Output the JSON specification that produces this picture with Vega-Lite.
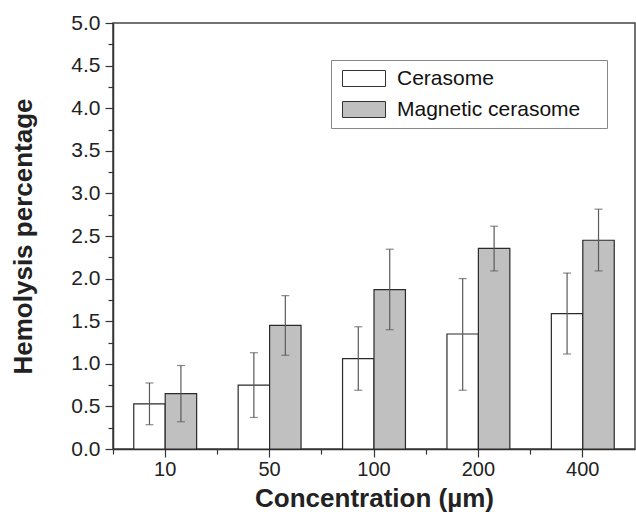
{
  "$schema": "https://vega.github.io/schema/vega-lite/v6.json",
  "width": 522,
  "height": 426,
  "autosize": "none",
  "padding": {"left": 113, "top": 23, "right": 1, "bottom": 63},
  "background": "white",
  "config": {
    "font": "Liberation Sans",
    "view": {"stroke": "#444", "strokeWidth": 1.5},
    "axis": {"domainColor": "#333", "domainWidth": 1.5, "tickColor": "#333", "tickWidth": 1.2, "labelColor": "#222", "titleColor": "#222", "grid": false}
  },
  "data": {
    "values": [
      {"conc": "10", "series": "Cerasome", "value": 0.53, "lo": 0.285, "hi": 0.775},
      {"conc": "10", "series": "Magnetic cerasome", "value": 0.65, "lo": 0.32, "hi": 0.98},
      {"conc": "50", "series": "Cerasome", "value": 0.75, "lo": 0.37, "hi": 1.13},
      {"conc": "50", "series": "Magnetic cerasome", "value": 1.45, "lo": 1.10, "hi": 1.80},
      {"conc": "100", "series": "Cerasome", "value": 1.06, "lo": 0.69, "hi": 1.435},
      {"conc": "100", "series": "Magnetic cerasome", "value": 1.87, "lo": 1.40, "hi": 2.345},
      {"conc": "200", "series": "Cerasome", "value": 1.35, "lo": 0.69, "hi": 2.00},
      {"conc": "200", "series": "Magnetic cerasome", "value": 2.355, "lo": 2.09, "hi": 2.615},
      {"conc": "400", "series": "Cerasome", "value": 1.59, "lo": 1.115, "hi": 2.065},
      {"conc": "400", "series": "Magnetic cerasome", "value": 2.45, "lo": 2.09, "hi": 2.815}
    ]
  },
  "resolve": {"axis": {"x": "independent", "y": "independent"}, "scale": {"x": "shared", "y": "shared"}},
  "layer": [
    {
      "mark": {"type": "bar", "stroke": "#2a2a2a", "strokeWidth": 1.2},
      "encoding": {
        "x": {
          "field": "conc", "type": "nominal", "sort": ["10", "50", "100", "200", "400"],
          "scale": {"paddingInner": 0, "paddingOuter": 0},
          "axis": {"orient": "bottom", "labelAngle": 0, "tickSize": 8, "labelFontSize": 20, "labelPadding": 2, "title": "Concentration (µm)", "titleFontSize": 26, "titleFontWeight": "bold", "titlePadding": 6}
        },
        "xOffset": {"field": "series", "type": "nominal", "scale": {"paddingInner": 0, "paddingOuter": 0.66}},
        "y": {
          "field": "value", "type": "quantitative",
          "scale": {"domain": [0, 5], "nice": false},
          "axis": {"orient": "left", "values": [0, 0.5, 1, 1.5, 2, 2.5, 3, 3.5, 4, 4.5, 5], "format": ".1f", "tickSize": 8, "labelFontSize": 21, "labelPadding": 5, "title": "Hemolysis percentage", "titleFontSize": 26, "titleFontWeight": "bold", "titlePadding": 34}
        },
        "fill": {
          "field": "series", "type": "nominal",
          "scale": {"domain": ["Cerasome", "Magnetic cerasome"], "range": ["#ffffff", "#c0c0c0"]},
          "legend": {
            "title": ".", "titleOrient": "right", "titleColor": "white", "titleFontSize": 10, "titlePadding": 16,
            "orient": "none", "legendX": 218, "legendY": 37,
            "strokeColor": "#888", "fillColor": "white", "padding": 8,
            "symbolType": "M-2.6875,-1H2.6875V1H-2.6875Z", "symbolSize": 256,
            "symbolOffset": 14.5,
            "symbolStrokeColor": "#333", "symbolStrokeWidth": 1,
            "labelFontSize": 21, "labelOffset": 22.5, "rowPadding": 9, "labelColor": "#111", "labelLimit": 500
          }
        }
      }
    },
    {
      "mark": {"type": "rule", "color": "#5a5a5a", "strokeWidth": 1.2},
      "encoding": {
        "x": {"field": "conc", "type": "nominal", "sort": ["10", "50", "100", "200", "400"],
          "axis": {"orient": "bottom", "bandPosition": 0, "labels": false, "domain": false, "tickSize": 5, "title": null}},
        "xOffset": {"field": "series", "type": "nominal"},
        "y": {"field": "lo", "type": "quantitative",
          "axis": {"orient": "left", "values": [0.25, 0.75, 1.25, 1.75, 2.25, 2.75, 3.25, 3.75, 4.25, 4.75], "labels": false, "domain": false, "tickSize": 5, "title": null}},
        "y2": {"field": "hi"}
      }
    },
    {
      "mark": {"type": "tick", "color": "#5a5a5a", "thickness": 1.2, "size": 8},
      "encoding": {
        "x": {"field": "conc", "type": "nominal", "sort": ["10", "50", "100", "200", "400"], "axis": null},
        "xOffset": {"field": "series", "type": "nominal"},
        "y": {"field": "hi", "type": "quantitative", "axis": null}
      }
    },
    {
      "mark": {"type": "tick", "color": "#5a5a5a", "thickness": 1.2, "size": 8},
      "encoding": {
        "x": {"field": "conc", "type": "nominal", "sort": ["10", "50", "100", "200", "400"], "axis": null},
        "xOffset": {"field": "series", "type": "nominal"},
        "y": {"field": "lo", "type": "quantitative", "axis": null}
      }
    }
  ]
}
